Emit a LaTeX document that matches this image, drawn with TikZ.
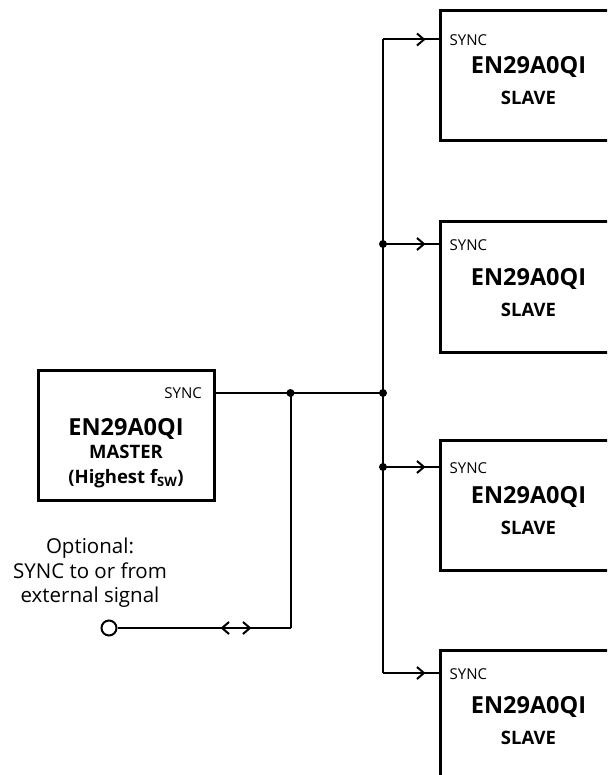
\documentclass[tikz,border=0pt]{standalone}
\usepackage{fontspec}
\setmainfont{Open Sans}
\usepackage{tikz}
\usetikzlibrary{arrows.meta, positioning, decorations.markings}

\begin{document}
\begin{tikzpicture}[x=1pt, y=-1pt,
  chip/.style={rectangle, draw, line width=3pt, minimum width=176pt,
               minimum height=130pt, inner sep=0pt, outer sep=0pt},
  wire/.style={line width=2pt},
  partno/.style={font=\fontsize{23.5}{26}\selectfont\bfseries, inner sep=0pt},
  role/.style={font=\fontsize{18.5}{21}\selectfont\bfseries, inner sep=0pt},
  pin/.style={font=\fontsize{15}{17}\selectfont, inner sep=0pt},
  note/.style={font=\fontsize{20.5}{24.5}\selectfont, align=center, inner sep=0pt},
  syncin/.style={postaction={decorate}, decoration={markings,
      mark=at position -15pt with {\arrow{Straight Barb[length=7pt, width=12pt]}}}},
  bidir/.style={postaction={decorate}, decoration={markings,
      mark=at position 103pt with {\arrowreversed{Straight Barb[length=7pt, width=12pt]}},
      mark=at position 134pt with {\arrow{Straight Barb[length=7pt, width=12pt]}}}}
]
\clip (0,0) rectangle (607,775);

\node[chip] (master) at (126,435) {};
\node[pin, anchor=base east] (msync) at (202,398) {SYNC};
\node[partno, anchor=base] (mpart) at (126,435) {EN29A0QI};
\node[role, anchor=base] (mrole) at (126,458) {MASTER};
\node[role, anchor=base] (mfsw) at (126,483) {(Highest f\textsubscript{SW})};

\node[chip, anchor=north west] (s1) at (440.5,11) {};
\node[chip, anchor=north west] (s2) at (440.5,222) {};
\node[chip, anchor=north west] (s3) at (440.5,440) {};
\node[chip, anchor=north west] (s4) at (440.5,650) {};

\node[partno, anchor=base] (p1) at ([yshift=-63pt]s1.north) {EN29A0QI};
\node[role, anchor=base] (r1) at ([yshift=-94pt]s1.north) {SLAVE};
\node[partno, anchor=base] (p2) at ([yshift=-63pt]s2.north) {EN29A0QI};
\node[role, anchor=base] (r2) at ([yshift=-94pt]s2.north) {SLAVE};
\node[partno, anchor=base] (p3) at ([yshift=-63pt]s3.north) {EN29A0QI};
\node[role, anchor=base] (r3) at ([yshift=-94pt]s3.north) {SLAVE};
\node[partno, anchor=base] (p4) at ([yshift=-63pt]s4.north) {EN29A0QI};
\node[role, anchor=base] (r4) at ([yshift=-94pt]s4.north) {SLAVE};

\coordinate (b1) at (383,39.5);
\coordinate (b2) at (383,244);
\coordinate (bus) at (383,393);
\coordinate (b3) at (383,467);
\coordinate (b4) at (383,673);
\coordinate (tap) at (290.5,393);

\node[pin, anchor=base west] (y1) at ([xshift=9pt, yshift=-6.5pt]s1.west |- b1) {SYNC};
\node[pin, anchor=base west] (y2) at ([xshift=9pt, yshift=-6.5pt]s2.west |- b2) {SYNC};
\node[pin, anchor=base west] (y3) at ([xshift=9pt, yshift=-6.5pt]s3.west |- b3) {SYNC};
\node[pin, anchor=base west] (y4) at ([xshift=9pt, yshift=-6.5pt]s4.west |- b4) {SYNC};

\node[note] (opt) at (90,573) {Optional:\\SYNC to or from\\external signal};
\node[circle, draw, line width=2pt, minimum size=15pt, inner sep=0pt] (ext) at (109,628) {};
\coordinate (corner) at (290.5,628);

\draw[wire] (master.east |- bus) -- (bus);
\draw[wire] (b1) -- (b4);
\draw[wire, syncin] (b1) -- (b1 -| s1.west);
\draw[wire, syncin] (b2) -- (b2 -| s2.west);
\draw[wire, syncin] (b3) -- (b3 -| s3.west);
\draw[wire, syncin] (b4) -- (b4 -| s4.west);
\draw[wire, bidir] (ext) -- (corner);
\draw[wire] (corner) -- (tap);

\fill (b2) circle (4pt);
\fill (bus) circle (4pt);
\fill (b3) circle (4pt);
\fill (tap) circle (4pt);
\end{tikzpicture}
\end{document}
